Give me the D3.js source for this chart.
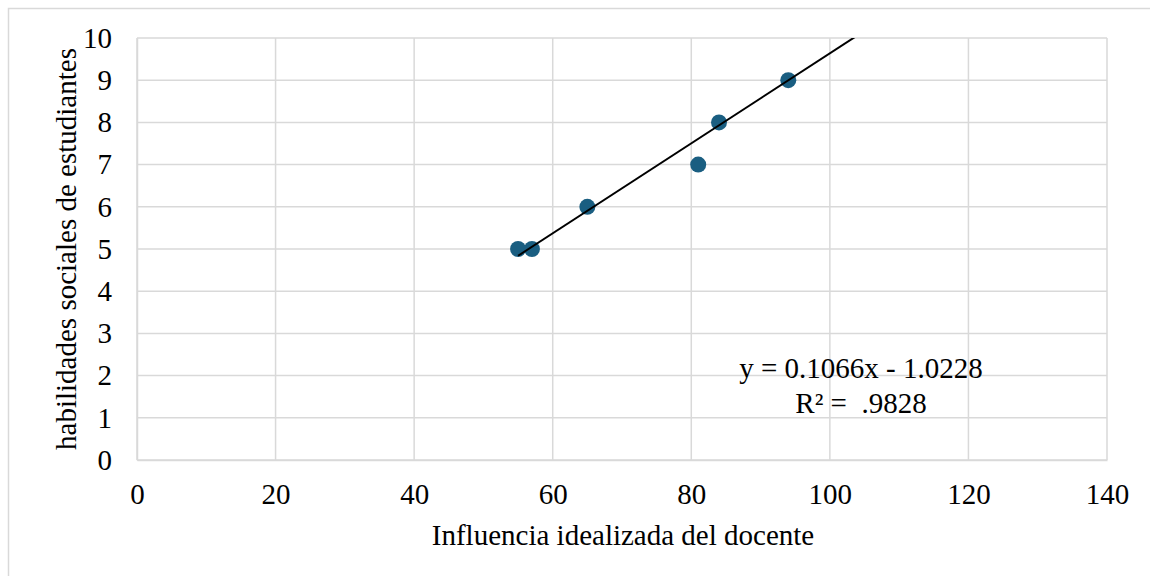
<!DOCTYPE html>
<html><head><meta charset="utf-8">
<script src="https://cdn.jsdelivr.net/npm/d3@7"></script>
<style>body{margin:0;background:#fff}svg{display:block}</style>
</head><body><svg id="c" width="1150" height="576"></svg>
<script>
const xValues = [55, 57, 65, 81, 84, 94];
const yValues = [5, 5, 6, 7, 8, 9];
const xTicks = [0, 20, 40, 60, 80, 100, 120, 140];
const yTicks = [0, 1, 2, 3, 4, 5, 6, 7, 8, 9, 10];
const trendSlope = 0.1066;
const trendIntercept = -1.0228;
const equationLines = ["y = 0.1066x - 1.0228", "R² =  .9828"];
const xTitle = "Influencia idealizada del docente";
const yTitle = "habilidades sociales de estudiantes";

const FONT = "'Liberation Serif', 'Times New Roman', Times, serif";
const FS = 29;
const svg = d3.select("#c");
const W = 1150, H = 576;
const m = {l: 137, t: 38, r: 1107, b: 460};
const x = d3.scaleLinear().domain([0, 140]).range([m.l, m.r]);
const y = d3.scaleLinear().domain([0, 10]).range([m.b, m.t]);
const grid = "#d9d9d9";

svg.append("rect").attr("x", 8.5).attr("y", 8.5).attr("width", W + 10).attr("height", H + 10)
  .attr("fill", "#fff").attr("stroke", grid).attr("stroke-width", 1.5);

svg.append("g").selectAll("line").data(yTicks).join("line")
  .attr("x1", m.l).attr("x2", m.r).attr("y1", d => y(d)).attr("y2", d => y(d))
  .attr("stroke", grid).attr("stroke-width", 1.5);
svg.append("g").selectAll("line").data(xTicks).join("line")
  .attr("y1", m.t).attr("y2", m.b).attr("x1", d => x(d)).attr("x2", d => x(d))
  .attr("stroke", grid).attr("stroke-width", 1.5);

const xAxis = svg.append("g").attr("transform", `translate(0,${m.b})`)
  .call(d3.axisBottom(x).tickValues(xTicks).tickSize(0).tickPadding(23));
xAxis.attr("font-family", null).attr("font-size", null);
xAxis.select(".domain").attr("stroke", grid).attr("stroke-width", 1.5);
xAxis.selectAll("text").style("font-size", FS + "px").style("font-family", FONT).attr("fill", "#000");

const yAxis = svg.append("g").attr("transform", `translate(${m.l},0)`)
  .call(d3.axisLeft(y).tickValues(yTicks).tickSize(0).tickPadding(25));
yAxis.attr("font-family", null).attr("font-size", null);
yAxis.select(".domain").attr("stroke", grid).attr("stroke-width", 1.5);
yAxis.selectAll("text").style("font-size", FS + "px").style("font-family", FONT).attr("fill", "#000");

const data = xValues.map((v, i) => ({x: v, y: yValues[i]}));
svg.append("g").selectAll("circle").data(data).join("circle")
  .attr("cx", d => x(d.x)).attr("cy", d => y(d.y)).attr("r", 8).attr("fill", "#1a5e81");

svg.append("clipPath").attr("id", "clip").append("rect")
  .attr("x", m.l).attr("y", m.t).attr("width", m.r - m.l).attr("height", m.b - m.t);
const x0 = d3.min(xValues), x1 = 140;
svg.append("line").attr("clip-path", "url(#clip)")
  .attr("x1", x(x0)).attr("y1", y(trendSlope * x0 + trendIntercept))
  .attr("x2", x(x1)).attr("y2", y(trendSlope * x1 + trendIntercept))
  .attr("stroke", "#000").attr("stroke-width", 2);

svg.append("g").selectAll("text").data(equationLines).join("text")
  .attr("x", 861).attr("y", (d, i) => 378 + i * 35).attr("text-anchor", "middle")
  .style("font-size", FS + "px").style("font-family", FONT).style("white-space", "pre")
  .attr("xml:space", "preserve").text(d => d);

svg.append("text").attr("x", (m.l + m.r) / 2 + 1).attr("y", 545).attr("text-anchor", "middle")
  .style("font-size", FS + "px").style("font-family", FONT).text(xTitle);
svg.append("text").attr("transform", `translate(76,${(m.t + m.b) / 2}) rotate(-90)`)
  .attr("text-anchor", "middle").style("font-size", FS + "px").style("font-family", FONT).text(yTitle);
</script></body></html>
